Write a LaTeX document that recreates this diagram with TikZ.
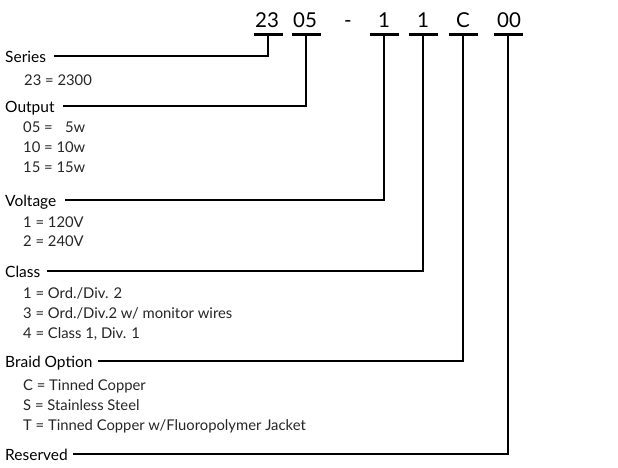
\documentclass[tikz,border=0pt]{standalone}
\usepackage{fontspec}
\setmainfont{Lato}
\begin{document}
\begin{tikzpicture}[x=1pt,y=-1pt,
  code/.style={anchor=base,inner sep=0pt,font=\fontsize{20.5}{20}\selectfont},
  lab/.style={anchor=west,inner sep=0pt,text height=12pt,text depth=0pt,font=\fontsize{15.5}{15}\selectfont},
  val/.style={anchor=base west,inner sep=0pt,font=\fontsize{14.8}{14}\selectfont,text=black!85},
  bar/.style={line width=3pt},
  conn/.style={line width=1.8pt,line join=miter}]
\useasboundingbox[fill=white] (0,0) rectangle (618,467);
% codes
\node[code] (c1) at (267,27) {23};
\node[code] (c2) at (305,27) {05};
\node[code] (cd) at (348,27) {-};
\node[code] (c3) at (384,27) {1};
\node[code] (c4) at (423,27) {1};
\node[code] (c5) at (463,27) {C};
\node[code] (c6) at (509,27) {00};
\coordinate (b1) at (268,34);
\coordinate (b2) at (306,34);
\coordinate (b3) at (384,34);
\coordinate (b4) at (423,34);
\coordinate (b5) at (463,34);
\coordinate (b6) at (508,34);
\foreach \b in {b1,b2,b3,b4,b5,b6}
  \draw[bar] ([xshift=-14.5pt]\b) -- ([xshift=14.5pt]\b);
% labels
\node[lab] (l1) at (5,56) {Series};
\node[lab] (l2) at (5,106) {Output};
\node[lab] (l3) at (5,200) {Voltage};
\node[lab] (l4) at (5,271) {Class};
\node[lab] (l5) at (5,361) {Braid Option};
\node[lab] (l6) at (5,454) {Reserved};
% values
\node[val] (v11) at (24,85) {23 = 2300};
\node[val] (v21) at (23,132) {05 = \hphantom{1}5w};
\node[val] (v22) at (23,152) {10 = 10w};
\node[val] (v23) at (23,172) {15 = 15w};
\node[val] (v31) at (23,227) {1 = 120V};
\node[val] (v32) at (23,246) {2 = 240V};
\node[val] (v41) at (23,298) {1 = Ord./Div. 2};
\node[val] (v42) at (23,318) {3 = Ord./Div.2 w/ monitor wires};
\node[val] (v43) at (23,338) {4 = Class 1, Div. 1};
\node[val] (v51) at (23,390) {C = Tinned Copper};
\node[val] (v52) at (23,410) {S = Stainless Steel};
\node[val] (v53) at (23,430) {T = Tinned Copper w/Fluoropolymer Jacket};
% connectors
\draw[conn] (b1) |- ([xshift=8pt]l1.east);
\draw[conn] (b2) |- ([xshift=8pt]l2.east);
\draw[conn] (b3) |- ([xshift=8pt]l3.east);
\draw[conn] (b4) |- ([xshift=6pt]l4.east);
\draw[conn] (b5) |- ([xshift=5pt]l5.east);
\draw[conn] (b6) |- ([xshift=5pt]l6.east);
\end{tikzpicture}
\end{document}
